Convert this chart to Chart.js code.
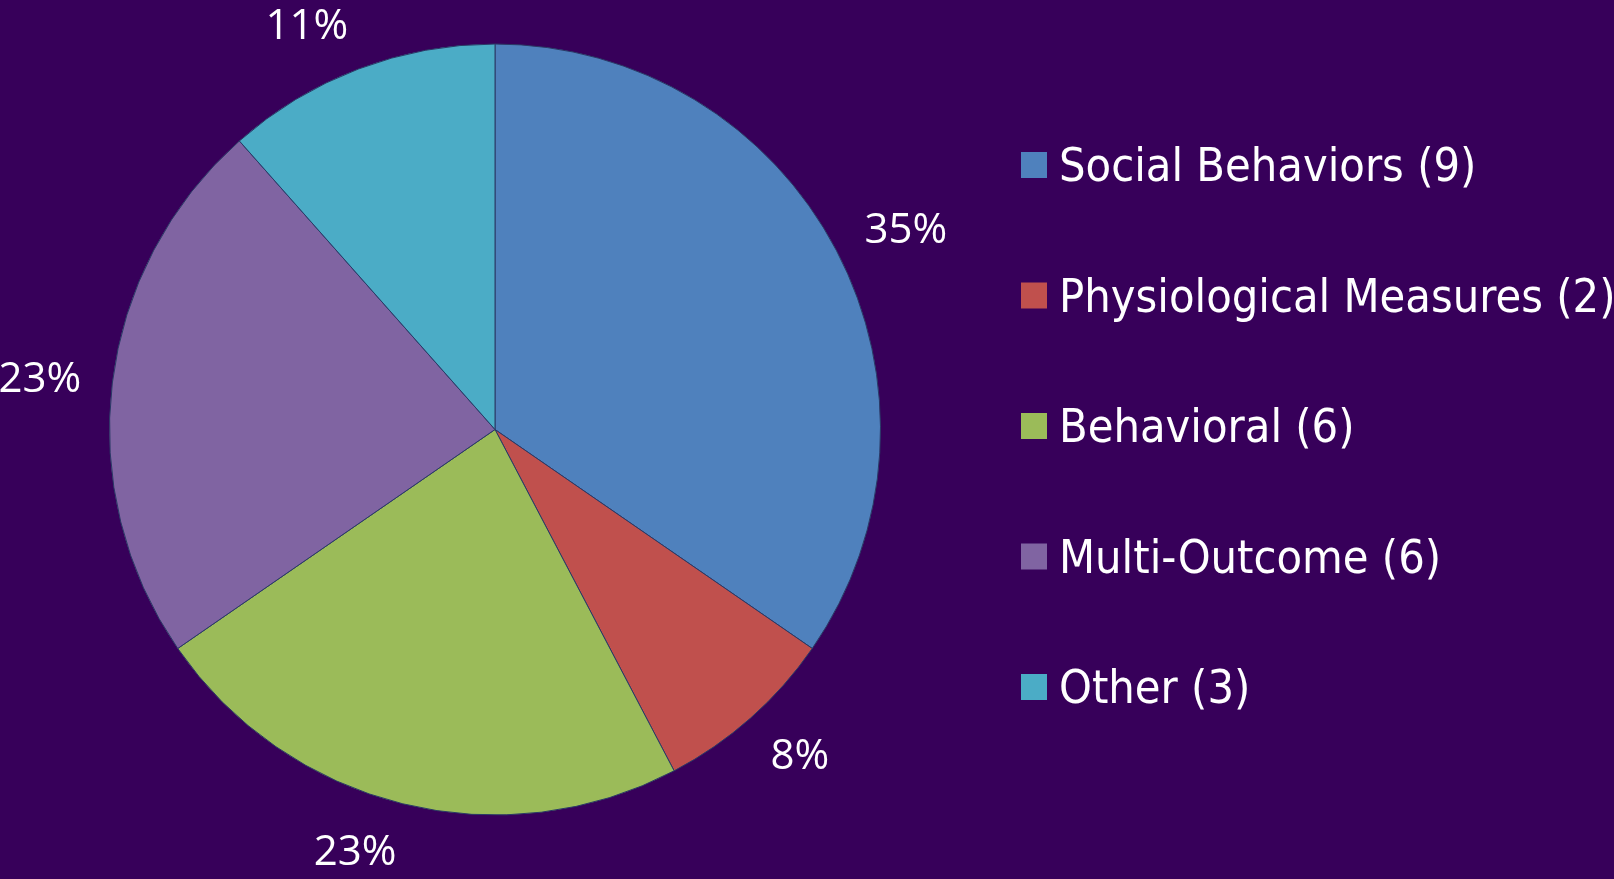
<!DOCTYPE html>
<html>
<head>
<meta charset="utf-8">
<script src="https://cdn.jsdelivr.net/npm/chart.js@4/dist/chart.umd.min.js"></script>
<style>
  html, body { margin: 0; padding: 0; background: #37005a; overflow: hidden; }
  #wrap { width: 1614px; height: 879px; }
</style>
</head>
<body>
<div id="wrap"><canvas id="pie" width="1614" height="879"></canvas></div>
<script>
// data
var categories = ["Social Behaviors", "Physiological Measures", "Behavioral", "Multi-Outcome", "Other"];
var counts = [9, 2, 6, 6, 3];
var pctLabels = ["35%", "8%", "23%", "23%", "11%"];
var colours = ["#4f81bd", "#c0504d", "#9bbb59", "#8064a2", "#4bacc6"];

const PCT_FONT = "42px 'Open Sans', 'Noto Sans', sans-serif";
const LEGEND_FONT = "46.5px 'DejaVu Sans Condensed', 'DejaVu Sans', sans-serif";

// percentages outside each slice, pushed sideways by half their width
const pctPlugin = {
  id: "pctLabels",
  afterDatasetsDraw(chart) {
    const ctx = chart.ctx;
    const arcs = chart.getDatasetMeta(0).data;
    ctx.save();
    ctx.font = PCT_FONT;
    ctx.fillStyle = "#ffffff";
    ctx.textAlign = "left";
    ctx.textBaseline = "alphabetic";
    arcs.forEach((arc, i) => {
      const mid = (arc.startAngle + arc.endAngle) / 2;
      const c = Math.cos(mid), s = Math.sin(mid);
      const r = arc.outerRadius + 33;
      const m = ctx.measureText(pctLabels[i]);
      const w = m.actualBoundingBoxLeft + m.actualBoundingBoxRight;
      const h = m.actualBoundingBoxAscent;
      const cx = arc.x + c * r + Math.sign(c) * w / 2;
      const cy = arc.y + s * r + s * h / 2;
      ctx.fillText(pctLabels[i], cx - w / 2 + m.actualBoundingBoxLeft, cy + h / 2);
    });
    ctx.restore();
  }
};

// legend on the right, squares + text
const legendPlugin = {
  id: "sideLegend",
  afterDraw(chart) {
    const ctx = chart.ctx;
    ctx.save();
    ctx.font = LEGEND_FONT;
    ctx.textBaseline = "middle";
    categories.forEach((name, i) => {
      const y = 165 + i * 130.5;
      ctx.fillStyle = colours[i];
      ctx.fillRect(1021, y - 13, 26, 26);
      ctx.fillStyle = "#ffffff";
      ctx.fillText(name + " (" + counts[i] + ")", 1059, y + 4);
    });
    ctx.restore();
  }
};

function build() {
  const ctx = document.getElementById("pie").getContext("2d");
  return new Chart(ctx, {
    type: "pie",
    data: {
      labels: categories,
      datasets: [{
        data: counts,
        backgroundColor: colours,
        borderColor: "#2a3a66",
        borderWidth: 1
      }]
    },
    options: {
      responsive: false,
      animation: false,
      layout: { padding: { left: 109, right: 733, top: 43, bottom: 63 } },
      plugins: {
        legend: { display: false },
        tooltip: { enabled: false }
      }
    },
    plugins: [pctPlugin, legendPlugin]
  });
}

Promise.all([document.fonts.load(PCT_FONT), document.fonts.load(LEGEND_FONT)])
  .then(build, build);
</script>
</body>
</html>
